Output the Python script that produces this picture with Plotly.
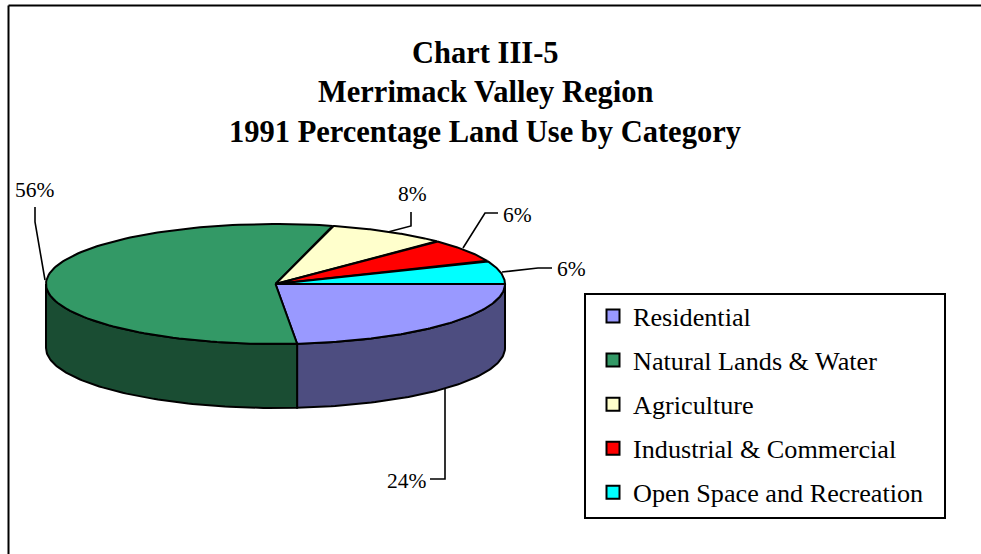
import numpy as np
import plotly.graph_objects as go

# ---- data -------------------------------------------------------------
CATEGORIES = ["Residential", "Natural Lands & Water", "Agriculture",
              "Industrial & Commercial", "Open Space and Recreation"]
SHARES = [23.5, 55.5, 8.4, 6.3, 6.3]
TITLE_LINES = ["Chart III-5", "Merrimack Valley Region",
               "1991 Percentage Land Use by Category"]

# ---- style / layout ---------------------------------------------------
TOP_COLORS = ["#9999FF", "#339966", "#FFFFCC", "#FF0000", "#00FFFF"]
SIDE_COLORS = ["#4D4D80", "#1A4D33", "#808066", "#800000", "#008080"]
W, H = 981, 554
CX, CY, RX, RY, DEPTH = 275.5, 284, 229.5, 60, 64
FONT = "Liberation Serif"
LABEL_SIZE, LEGEND_SIZE, TITLE_SIZE = 21.5, 26.2, 30.5
TITLE_Y = [52.5, 91.5, 131.5]
LABEL_POS = [(407, 481), (35, 190), (412, 194), (517, 215), (571, 269)]
LEADERS = [
    [(430, 479), (445, 479), (445, 388)],
    [(35, 207), (35, 222), (45, 280)],
    [(411, 212), (411, 226), (388, 232)],
    [(498, 213), (485, 213), (463, 248)],
    [(552, 268), (538, 268), (502, 272)],
]


def ell(t, dy=0.0):
    return CX + RX * np.cos(t), CY + dy + RY * np.sin(t)


edges = np.radians(np.concatenate([[0], np.cumsum(SHARES)]) * 3.6)
fig = go.Figure()

# side walls (only the front half of the rim is visible)
for i in range(len(SHARES)):
    a, b = edges[i], min(edges[i + 1], np.pi)
    if a >= np.pi:
        continue
    t = np.linspace(a, b, 80)
    x1, y1 = ell(t)
    x2, y2 = ell(t[::-1], DEPTH)
    fig.add_trace(go.Scatter(
        x=np.r_[x1, x2, x1[0]], y=np.r_[y1, y2, y1[0]], mode="lines",
        fill="toself", fillcolor=SIDE_COLORS[i],
        line=dict(color="black", width=2), showlegend=False, hoverinfo="skip"))

# top faces
for i in range(len(SHARES)):
    t = np.linspace(edges[i], edges[i + 1], 120)
    x, y = ell(t)
    fig.add_trace(go.Scatter(
        x=np.r_[CX, x, CX], y=np.r_[CY, y, CY], mode="lines",
        fill="toself", fillcolor=TOP_COLORS[i],
        line=dict(color="black", width=2), name=CATEGORIES[i],
        showlegend=False, hoverinfo="skip"))

# legend entries
for i, c in enumerate(CATEGORIES):
    fig.add_trace(go.Scatter(
        x=[None], y=[None], mode="markers", name=c, legendgroup=c,
        marker=dict(symbol="square", size=13, color=TOP_COLORS[i],
                    line=dict(color="black", width=2))))

# leader lines
for pts in LEADERS:
    xs, ys = zip(*pts)
    fig.add_trace(go.Scatter(x=xs, y=ys, mode="lines", showlegend=False,
                             hoverinfo="skip", line=dict(color="black", width=1.6)))

# percentage labels
for v, (x, y) in zip(SHARES, LABEL_POS):
    fig.add_annotation(x=x, y=y, text=f"{v:.0f}%", showarrow=False,
                       font=dict(family=FONT, size=LABEL_SIZE, color="black"))

for line, y in zip(TITLE_LINES, TITLE_Y):
    fig.add_annotation(x=485, y=y, text=f"<b>{line}</b>", showarrow=False,
                       font=dict(family=FONT, size=TITLE_SIZE, color="black"))

fig.update_layout(
    width=W, height=H, margin=dict(l=0, r=0, t=0, b=0),
    paper_bgcolor="white", plot_bgcolor="white",
    xaxis=dict(range=[0, W], visible=False, fixedrange=True),
    yaxis=dict(range=[H, 0], visible=False, fixedrange=True),
    font=dict(family=FONT, color="black"),
    legend=dict(x=593 / W, y=1 - 292.5 / H, xanchor="left", yanchor="top",
                bgcolor="rgba(0,0,0,0)", borderwidth=0, tracegroupgap=7,
                font=dict(family=FONT, size=LEGEND_SIZE, color="black")),
    shapes=[
        dict(type="rect", x0=585, x1=945, y0=294, y1=518,
             line=dict(color="black", width=2), fillcolor="white", layer="below"),
        dict(type="line", x0=8.5, x1=W, y0=5.5, y1=5.5, line=dict(color="black", width=2)),
        dict(type="line", x0=8.5, x1=8.5, y0=5.5, y1=H, line=dict(color="black", width=2)),
    ],
)
fig.write_html("out.html", config={"displayModeBar": False},
               post_script="document.body.style.margin='0';document.body.style.overflow='hidden';")
